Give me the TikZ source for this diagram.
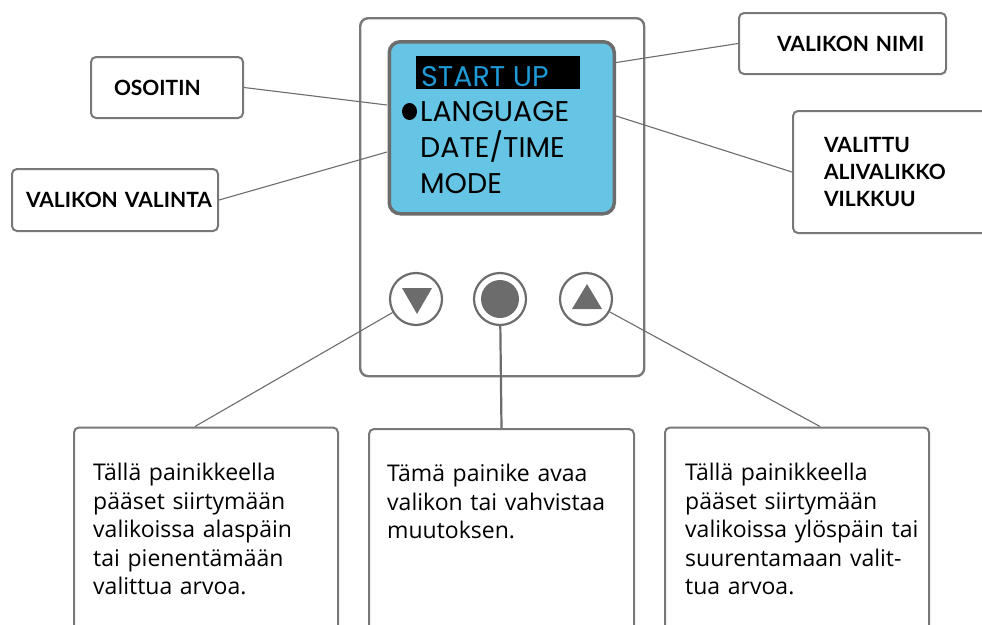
\documentclass[tikz,border=0pt]{standalone}
\usepackage{fontspec}
\setmainfont{Open Sans}
\newfontfamily\screenfont{Poppins}
\newfontfamily\labelfont{Lato}
\usetikzlibrary{calc,shapes.geometric}
\definecolor{frame}{HTML}{787878}
\definecolor{dark}{HTML}{6C6C6C}
\definecolor{lcd}{HTML}{66C5E5}
\definecolor{lcdtext}{HTML}{1E9AD6}
\tikzset{
  lbox/.style={draw=frame, line width=2pt, rounded corners=5pt, fill=white, anchor=north west, align=left},
  lbl/.style={font=\labelfont\bfseries\fontsize{21}{27}\selectfont},
  conn/.style={draw=dark, line width=1.1pt},
  btn/.style={circle, draw=dark, line width=2.2pt, minimum size=52pt, inner sep=0pt},
  scrtxt/.style={font=\screenfont\fontsize{28.5}{30}\selectfont, anchor=base west, inner sep=0pt},
  desc/.style={font=\fontsize{23}{28.5}\selectfont, anchor=north west, inner sep=0pt, align=left, text width=250pt},
}
\begin{document}
\begin{tikzpicture}[x=1pt,y=-1pt]
\useasboundingbox (0,0) rectangle (982,624);
\clip (0,0) rectangle (982,624);
% device
\node[draw=frame, line width=2.4pt, rounded corners=8pt, minimum width=284pt, minimum height=358pt, anchor=north west, inner sep=0pt] (dev) at (359,17) {};
% screen
\node[draw=dark, fill=lcd, line width=3.5pt, rounded corners=11pt, minimum width=225pt, minimum height=172pt, anchor=north west, inner sep=0pt] (scr) at (387.5,40) {};
\node[fill=black, minimum width=164pt, minimum height=33pt, anchor=north west, inner sep=0pt] (title) at (416,56) {};
\node[scrtxt, text=lcdtext] (t1) at (421,86) {START UP};
\node[scrtxt] (t2) at (420,121.5) {LANGUAGE};
\node[scrtxt] (t3) at (420,157.5) {DATE/TIME};
\node[scrtxt] (t4) at (420,193.5) {MODE};
\node[ellipse, fill=black, minimum width=15pt, minimum height=17pt, inner sep=0pt] (dot) at (409.5,111.5) {};
% buttons
\node[btn] (b1) at (416,299) {};
\node[btn] (b2) at (500,299) {};
\node[btn] (b3) at (586,299) {};
\fill[dark] (402,288) -- (432,288) -- (417,314) -- cycle;
\fill[dark] (572,309) -- (602,309) -- (587,284) -- cycle;
\node[circle, fill=dark, minimum size=38pt, inner sep=0pt] (b2dot) at (500,299) {};
% label boxes
\node[lbox, lbl, minimum height=61pt, text width=106pt, inner xsep=23pt] (osoitin) at (90,56) {\mbox{OSOITIN}};
\node[lbox, lbl, minimum height=62pt, text width=178pt, inner xsep=14pt] (valinta) at (11,168) {\mbox{VALIKON VALINTA}};
\node[lbox, lbl, minimum height=61pt, text width=131pt, inner xsep=38pt] (nimi) at (738,12) {\mbox{VALIKON NIMI}};
\node[lbox, lbl, minimum height=122pt, text width=170pt, inner xsep=31pt] (valittu) at (792,110) {\mbox{VALITTU}\\\mbox{ALIVALIKKO}\\\mbox{VILKKUU}};
% screen anchor coordinates
\coordinate (s1) at (387,105);
\coordinate (s2) at (387,152);
\coordinate (s3) at (613,63);
\coordinate (s4) at (613,115);
\draw[conn] (osoitin.east) -- (s1);
\draw[conn] (valinta.east) -- (s2);
\draw[conn] (nimi.west) -- (s3);
\draw[conn] (valittu.west) -- (s4);
% bottom boxes
\node[lbox, minimum width=264pt, minimum height=260pt, inner sep=0pt] (bl) at (73,426.5) {};
\node[lbox, minimum width=265pt, minimum height=260pt, inner sep=0pt] (bm) at (368,428) {};
\node[lbox, minimum width=264pt, minimum height=260pt, inner sep=0pt] (br) at (664,426.5) {};
\node[desc] (blt) at (93,463) {Tällä painikkeella\\pääset siirtymään\\valikoissa alaspäin\\tai pienentämään\\valittua arvoa.};
\node[desc] (bmt) at (387,464) {Tämä painike avaa\\valikon tai vahvistaa\\muutoksen.};
\node[desc] (brt) at (685,463) {Tällä painikkeella\\pääset siirtymään\\valikoissa ylöspäin tai\\suurentamaan valit-\\tua arvoa.};
\coordinate (cl) at ($(bl.north west)+(122,0)$);
\coordinate (cr) at ($(br.north west)+(156,0)$);
\draw[conn] (b1) -- (cl);
\draw[conn] (b3) -- (cr);
\draw[conn, line width=2.2pt] (b2) -- (bm.north);
\end{tikzpicture}
\end{document}
